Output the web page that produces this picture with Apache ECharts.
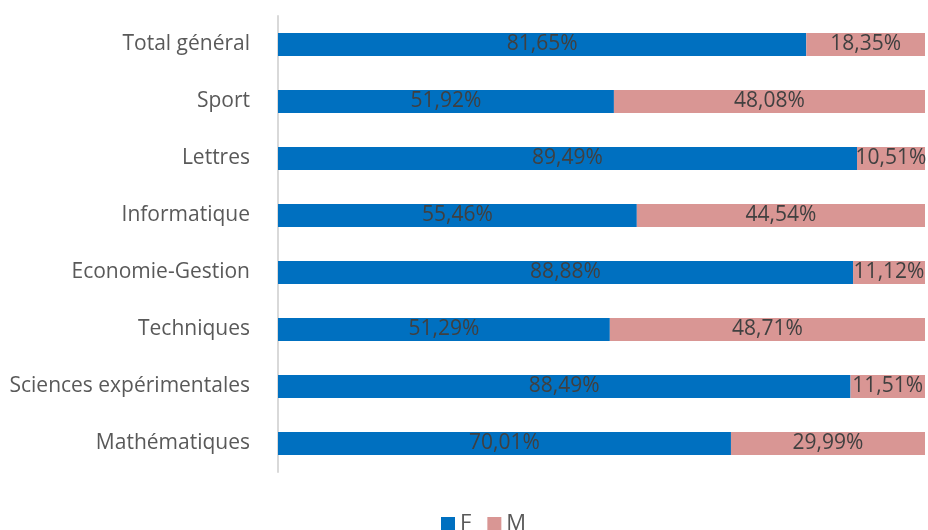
<!DOCTYPE html>
<html>
<head>
<meta charset="utf-8">
<script src="https://cdn.jsdelivr.net/npm/echarts@6/dist/echarts.min.js"></script>
<style>
html,body{margin:0;padding:0;background:#fff;}
#main{width:928px;height:530px;}
</style>
</head>
<body>
<div id="main"></div>
<script>
const categories = ['Mathématiques', 'Sciences expérimentales', 'Techniques', 'Economie-Gestion', 'Informatique', 'Lettres', 'Sport', 'Total général'];
const valuesF = [70.01, 88.49, 51.29, 88.88, 55.46, 89.49, 51.92, 81.65];
const valuesM = [29.99, 11.51, 48.71, 11.12, 44.54, 10.51, 48.08, 18.35];

window.addEventListener('load', function () {
    let chart = echarts.init(document.getElementById('main'));
    let fmt = function (p) {
        return p.value.toFixed(2).replace('.', ',') + '%';
    };
    let labelStyle = {
        show: true,
        position: 'inside',
        formatter: fmt,
        color: '#404040',
        fontSize: 21,
        fontFamily: 'Open Sans, sans-serif'
    };
    let option = {
        animation: false,
        grid: { left: 278, right: 3, top: 16, bottom: 58 },
        legend: {
            data: ['F', 'M'],
            bottom: -10,
            left: 436,
            itemWidth: 14,
            itemHeight: 14,
            itemGap: 16,
            icon: 'rect',
            textStyle: { color: '#595959', fontSize: 22, fontFamily: 'Open Sans, sans-serif' }
        },
        xAxis: {
            type: 'value',
            min: 0,
            max: 100,
            show: false
        },
        yAxis: {
            type: 'category',
            data: categories,
            axisLine: { show: true, lineStyle: { color: '#d9d9d9', width: 2 } },
            axisTick: { show: false },
            axisLabel: { color: '#595959', fontSize: 21, margin: 28, fontFamily: 'Open Sans, sans-serif' }
        },
        series: [
            {
                name: 'F',
                type: 'bar',
                stack: 'total',
                barWidth: 23,
                data: valuesF,
                itemStyle: { color: '#0070C0' },
                label: labelStyle
            },
            {
                name: 'M',
                type: 'bar',
                stack: 'total',
                barWidth: 23,
                data: valuesM,
                itemStyle: { color: '#D99694' },
                label: labelStyle
            }
        ]
    };
    chart.setOption(option);
}, false);
</script>
</body>
</html>
